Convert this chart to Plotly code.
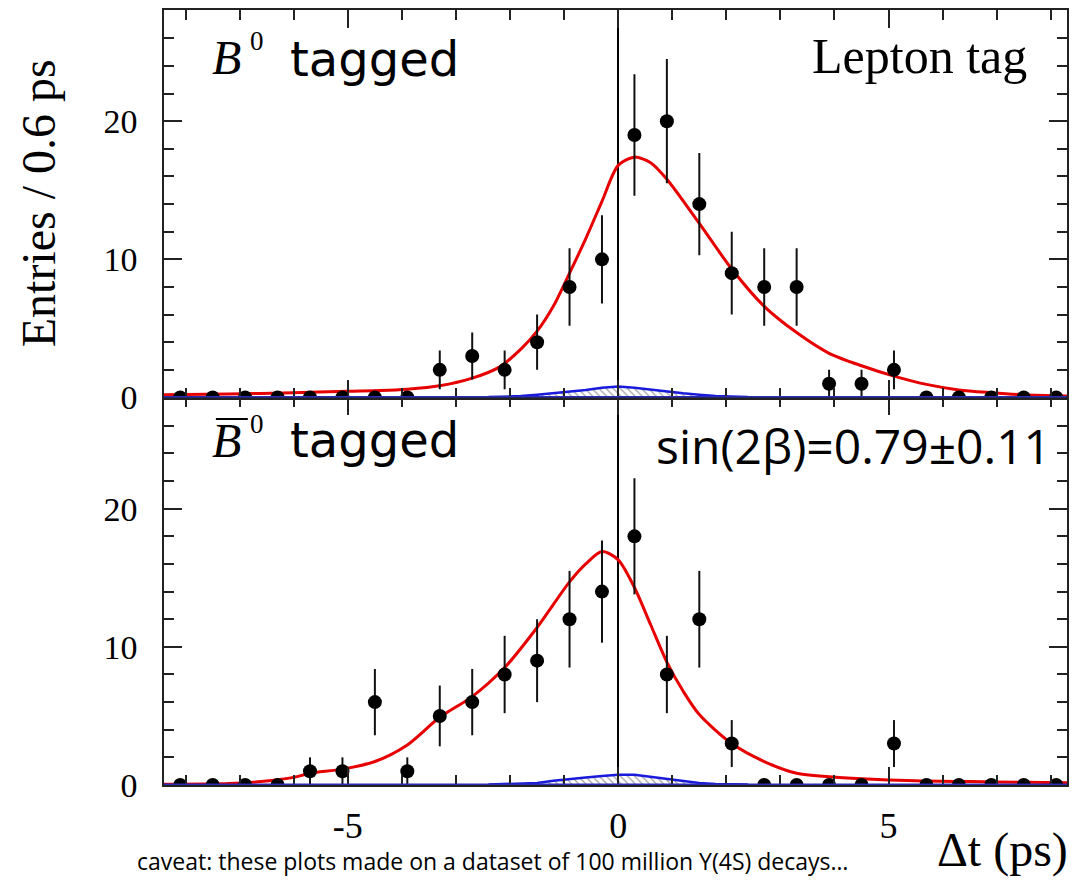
import plotly.graph_objects as go
from plotly.subplots import make_subplots

# ---------------- data ----------------
bin_centers = [-8.1, -7.5, -6.9, -6.3, -5.7, -5.1, -4.5, -3.9, -3.3, -2.7, -2.1, -1.5, -0.9, -0.3,
               0.3, 0.9, 1.5, 2.1, 2.7, 3.3, 3.9, 4.5, 5.1, 5.7, 6.3, 6.9, 7.5, 8.1]

b0_counts = [0, 0, 0, 0, 0, 0, 0, 0, 2, 3, 2, 4, 8, 10,
             19, 20, 14, 9, 8, 8, 1, 1, 2, 0, 0, 0, 0, 0]
b0_err = [0, 0, 0, 0, 0, 0, 0, 0, 1.4, 1.7, 1.4, 2.0, 2.8, 3.2,
          4.4, 4.5, 3.7, 3.0, 2.8, 2.8, 1.0, 1.0, 1.4, 0, 0, 0, 0, 0]

b0bar_counts = [0, 0, 0, 0, 1, 1, 6, 1, 5, 6, 8, 9, 12, 14,
                18, 8, 12, 3, 0, 0, 0, 0, 3, 0, 0, 0, 0, 0]
b0bar_err = [0, 0, 0, 0, 1.0, 1.0, 2.4, 1.0, 2.2, 2.4, 2.8, 3.0, 3.5, 3.7,
             4.2, 2.8, 3.5, 1.7, 0, 0, 0, 0, 1.7, 0, 0, 0, 0, 0]

# fit curves
fit_top_x = [-8.4, -7.2, -6.0, -5.0, -4.4, -3.9, -3.3, -2.7, -2.2, -1.8, -1.5, -1.2, -0.9, -0.6, -0.3,
             0.0, 0.3, 0.6, 0.9, 1.5, 2.1, 2.7, 3.3, 3.9, 4.5, 5.1, 5.7, 6.3, 6.9, 7.5, 8.4]
fit_top_y = [0.2, 0.25, 0.35, 0.45, 0.5, 0.6, 0.85, 1.4, 2.2, 3.5, 4.8, 6.6, 9.0, 11.5, 14.2,
             16.8, 17.4, 17.0, 15.8, 12.6, 9.3, 6.6, 4.7, 3.2, 2.3, 1.55, 0.95, 0.55, 0.35, 0.2, 0.1]

fit_bot_x = [-8.4, -7.2, -6.6, -6.0, -5.7, -5.1, -4.5, -3.9, -3.3, -2.7, -2.1, -1.5, -0.9, -0.6, -0.3,
             0.0, 0.3, 0.6, 0.9, 1.2, 1.5, 2.1, 2.7, 3.3, 3.9, 4.5, 5.5, 6.5, 7.5, 8.4]
fit_bot_y = [0.05, 0.1, 0.25, 0.55, 0.85, 1.15, 1.7, 2.9, 4.9, 6.4, 8.5, 11.4, 14.7, 16.0, 16.9,
             16.3, 14.3, 11.6, 8.9, 6.8, 5.1, 3.0, 1.7, 0.85, 0.6, 0.45, 0.3, 0.25, 0.2, 0.15]

bkg_x = [-2.4, -1.8, -1.5, -1.2, -0.9, -0.6, -0.3, 0.0, 0.3, 0.6, 0.9, 1.2, 1.5, 1.8, 2.4]
bkg_top_y = [0.03, 0.1, 0.2, 0.3, 0.45, 0.55, 0.7, 0.8, 0.7, 0.55, 0.45, 0.3, 0.2, 0.1, 0.03]
bkg_bot_y = [0.03, 0.08, 0.15, 0.3, 0.45, 0.55, 0.65, 0.75, 0.75, 0.6, 0.45, 0.3, 0.15, 0.08, 0.03]

x_tickvals = [-5, 0, 5]
x_ticktext = ['-5', '0', '5']
y_tickvals = [0, 10, 20]
y_ticktext = ['0', '10', '20']

# ---------------- geometry helpers ----------------
W, H = 1073, 884
L, R, T, B = 164, 1069, 10, 785


def px(x):
    return (x - L) / (R - L)


def py(y):
    return (B - y) / (B - T)


fig = make_subplots(rows=2, cols=1, shared_xaxes=True, vertical_spacing=0)

panels = [(1, b0_counts, b0_err, fit_top_x, fit_top_y, bkg_top_y),
          (2, b0bar_counts, b0bar_err, fit_bot_x, fit_bot_y, bkg_bot_y)]

for row, cnt, err, fx, fy, by in panels:
    # background component (hatched)
    fig.add_trace(go.Scatter(x=bkg_x, y=by, mode='lines', line=dict(color='#1a1adc', width=2.5),
                             fill='tozeroy', fillcolor='rgba(255,255,255,0)',
                             fillpattern=dict(shape='\\', fgcolor='#444', bgcolor='rgba(0,0,0,0)',
                                              size=5, solidity=0.25),
                             hoverinfo='skip', showlegend=False), row=row, col=1)
    # total fit
    fig.add_trace(go.Scatter(x=fx, y=fy, mode='lines',
                             line=dict(color='#e60000', width=3, shape='spline', smoothing=0.8),
                             showlegend=False), row=row, col=1)
    # data
    fig.add_trace(go.Scatter(x=bin_centers, y=cnt, mode='markers',
                             marker=dict(color='black', size=14, symbol='circle'),
                             error_y=dict(type='data', array=err, visible=True, color='#111', thickness=2, width=0),
                             showlegend=False), row=row, col=1)

axis_line = dict(showline=True, linecolor='#222', linewidth=1.5, mirror='ticks', ticks='inside',
                 tickcolor='#222', tickwidth=1.5, showgrid=False)

for r in (1, 2):
    fig.update_xaxes(range=[-8.4, 8.3], tickvals=x_tickvals, ticktext=x_ticktext, ticklen=18,
                     minor=dict(dtick=1, tick0=0, ticklen=10, ticks='inside', tickcolor='#222',
                                tickwidth=1.5, showgrid=False),
                     zeroline=True, zerolinecolor='black', zerolinewidth=1.5,
                     tickfont=dict(family='Liberation Serif', size=36, color='black'),
                     ticklabelstandoff=8,
                     row=r, col=1, **axis_line)
    fig.update_yaxes(range=[0, 28.05], tickvals=y_tickvals, ticktext=y_ticktext, ticklen=18,
                     minor=dict(dtick=2, tick0=0, ticklen=10, ticks='inside', tickcolor='#222',
                                tickwidth=1.5, showgrid=False),
                     zeroline=False,
                     tickfont=dict(family='Liberation Serif', size=34, color='black'),
                     ticklabelstandoff=18,
                     row=r, col=1, **axis_line)

# blue baselines at y=0
for xr, yr in (('x domain', 'y'), ('x2 domain', 'y2')):
    fig.add_shape(type='line', xref=xr, yref=yr, x0=0, x1=1, y0=0, y1=0,
                  line=dict(color='#2b2bb8', width=3), layer='above')

serif = 'Liberation Serif'
sans = 'DejaVu Sans'
ann = []


def text(s, x, y, font, size, xanchor='left', yanchor='middle', angle=0, italic=False):
    ann.append(dict(text=s, x=px(x), y=py(y), xref='paper', yref='paper', showarrow=False,
                    xanchor=xanchor, yanchor=yanchor, textangle=angle,
                    font=dict(family=font, size=size, color='black', style='italic' if italic else 'normal')))


# top panel labels
text('B', 210, 57, serif, 48, italic=True)
text('0', 248, 41, serif, 27)
text('tagged', 288, 59, sans, 48)
text('Lepton tag', 1031, 56, serif, 50, xanchor='right')
# bottom panel labels
text('B', 210, 440, serif, 48, italic=True)
text('0', 248, 424, serif, 27)
text('tagged', 288, 440, sans, 48)
text('sin(2β)=0.79±0.11', 1055, 446, 'Open Sans', 48, xanchor='right')
# axis titles
text('Entries / 0.6 ps', 38, 203, serif, 48, xanchor='center', angle=-90)
text('Δt (ps)', 1004, 850, serif, 48, xanchor='center')
text('caveat: these plots made on a dataset of 100 million Υ(4S) decays…', 493, 861, 'Open Sans', 23,
     xanchor='center')

fig.add_shape(type='line', xref='paper', yref='paper', x0=px(216), x1=px(248), y0=py(419), y1=py(419),
              line=dict(color='black', width=2))

fig.update_layout(width=W, height=H, margin=dict(l=L, r=W - R, t=T, b=H - B),
                  paper_bgcolor='white', plot_bgcolor='white', annotations=ann, showlegend=False)

fig.write_html('out.html')
